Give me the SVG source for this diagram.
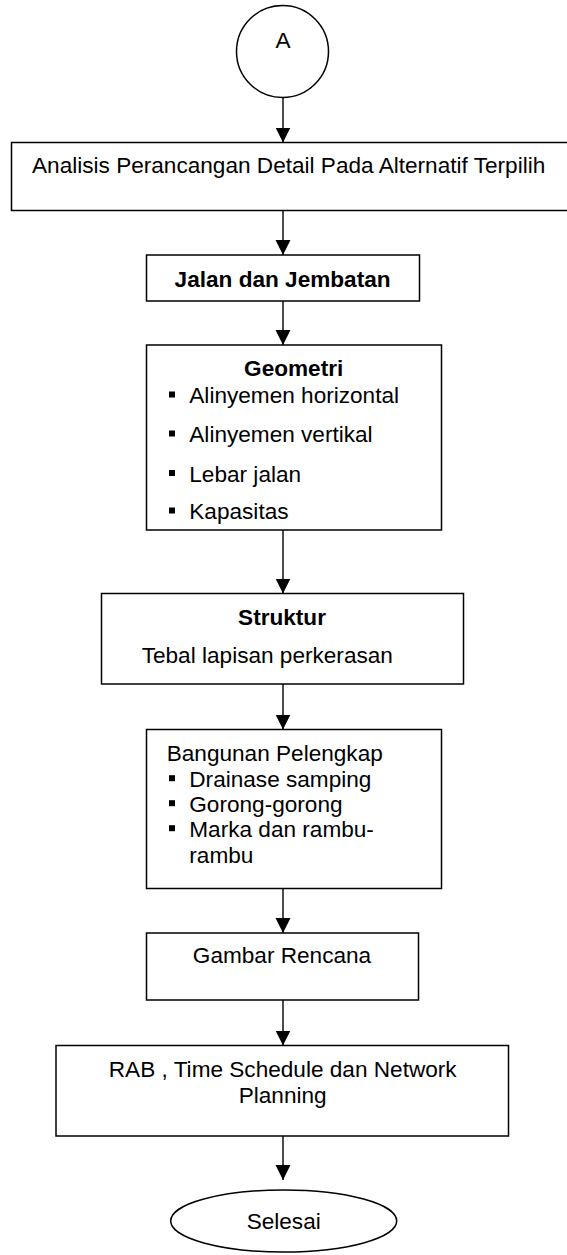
<svg xmlns="http://www.w3.org/2000/svg" width="567" height="1255" viewBox="0 0 567 1255">
<style>
.box{fill:#fff;stroke:#000;stroke-width:1.5}
.t{font-family:"Liberation Sans",Arial,sans-serif;font-size:22.6px;fill:#000}
.b{font-weight:bold}
.c{text-anchor:middle}
.con{stroke:#000;stroke-width:1.4;fill:none}
.bul{fill:#000}
</style>
<defs>
<marker id="ah" markerUnits="userSpaceOnUse" markerWidth="16" markerHeight="16" refX="15" refY="7.5" orient="auto">
<path d="M0,0 L15,7.5 L0,15 Z" fill="#000"/>
</marker>
</defs>
<rect width="567" height="1255" fill="#fff"/>
<g id="connectors">
<line class="con" x1="283" y1="97.5" x2="283" y2="142.5" marker-end="url(#ah)"/>
<line class="con" x1="283" y1="210.5" x2="283" y2="255" marker-end="url(#ah)"/>
<line class="con" x1="283" y1="301" x2="283" y2="345" marker-end="url(#ah)"/>
<line class="con" x1="283" y1="530" x2="283" y2="593.5" marker-end="url(#ah)"/>
<line class="con" x1="283" y1="684" x2="283" y2="729.5" marker-end="url(#ah)"/>
<line class="con" x1="283" y1="888.5" x2="283" y2="933" marker-end="url(#ah)"/>
<line class="con" x1="283" y1="1000" x2="283" y2="1045.5" marker-end="url(#ah)"/>
<line class="con" x1="283" y1="1136" x2="283" y2="1180" marker-end="url(#ah)"/>
</g>
<g id="node-a">
<circle class="box" cx="282.5" cy="51.5" r="46"/>
<text class="t c" x="283" y="47.7">A</text>
</g>
<g id="node-analisis">
<rect class="box" x="11.5" y="142.5" width="560" height="68"/>
<text class="t" x="32" y="172.7">Analisis Perancangan Detail Pada Alternatif Terpilih</text>
</g>
<g id="node-jalan">
<rect class="box" x="146.5" y="255" width="273" height="46"/>
<text class="t b c" x="282.6" y="286.7">Jalan dan Jembatan</text>
</g>
<g id="node-geometri">
<rect class="box" x="146.5" y="345" width="295" height="185"/>
<text class="t b c" x="293.7" y="376">Geometri</text>
<rect class="bul" x="169" y="391.5" width="6" height="6"/>
<text class="t" x="189.3" y="403">Alinyemen horizontal</text>
<rect class="bul" x="169" y="430.5" width="6" height="6"/>
<text class="t" x="189.3" y="442">Alinyemen vertikal</text>
<rect class="bul" x="169" y="470" width="6" height="6"/>
<text class="t" x="189.3" y="481.5">Lebar jalan</text>
<rect class="bul" x="169" y="507.5" width="6" height="6"/>
<text class="t" x="189.3" y="519">Kapasitas</text>
</g>
<g id="node-struktur">
<rect class="box" x="101.5" y="593.5" width="362" height="90.5"/>
<text class="t b c" x="282" y="625">Struktur</text>
<text class="t" x="141.7" y="663.3">Tebal lapisan perkerasan</text>
</g>
<g id="node-bangunan">
<rect class="box" x="146.5" y="729.5" width="295" height="159"/>
<text class="t" x="166.7" y="761">Bangunan Pelengkap</text>
<rect class="bul" x="169" y="775.2" width="6" height="6"/>
<text class="t" x="189.3" y="786.7">Drainase samping</text>
<rect class="bul" x="169" y="800.2" width="6" height="6"/>
<text class="t" x="189.3" y="811.7">Gorong-gorong</text>
<rect class="bul" x="169" y="825.2" width="6" height="6"/>
<text class="t" x="189.3" y="836.7">Marka dan rambu-</text>
<text class="t" x="189.3" y="862.7">rambu</text>
</g>
<g id="node-gambar">
<rect class="box" x="146.5" y="933" width="272" height="67"/>
<text class="t c" x="282" y="963.3">Gambar Rencana</text>
</g>
<g id="node-rab">
<rect class="box" x="56" y="1045.5" width="452.5" height="90.5"/>
<text class="t c" x="282.7" y="1076.7">RAB , Time Schedule dan Network</text>
<text class="t c" x="282.7" y="1103.3">Planning</text>
</g>
<g id="node-selesai">
<ellipse class="box" cx="283.7" cy="1221" rx="113" ry="31"/>
<text class="t c" x="283.7" y="1229">Selesai</text>
</g>
</svg>
